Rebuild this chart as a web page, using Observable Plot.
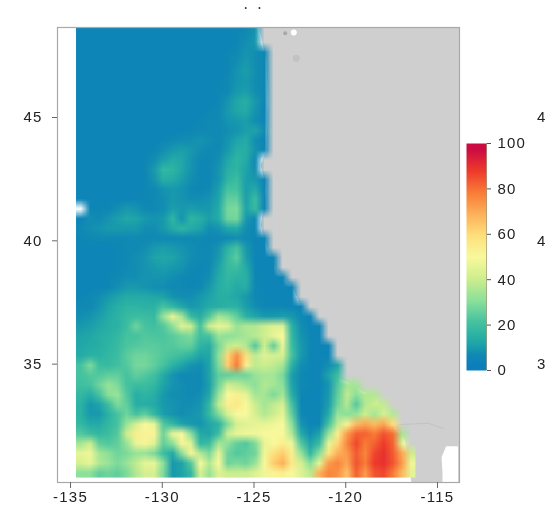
<!DOCTYPE html>
<html>
<head>
<meta charset="utf-8">
<script src="https://cdn.jsdelivr.net/npm/d3@7"></script>
<script src="https://cdn.jsdelivr.net/npm/@observablehq/plot@0.6"></script>
<style>
html,body{margin:0;padding:0;background:#fff;}
#wrap{position:relative;width:552px;height:512px;filter:blur(0.65px);overflow:hidden;}
#wrap svg{position:absolute;left:0;top:0;background:transparent;}
#wrap svg g[aria-label$="tick label"] text{letter-spacing:1.2px;}
</style>
</head>
<body>
<div id="wrap"></div>
<script>
// Percent values, north to south; each row stops at the coast.
const gridRows = [
[3,3,3,3,3,3,3,3,3,3,3,3,3,3,3,3,3,4,5,7],
[3,3,3,3,3,3,3,3,3,3,3,3,3,3,3,3,3,4,6,8],
[3,3,3,3,3,3,3,3,3,3,3,3,3,3,3,3,4,5,7,6,4],
[3,3,3,3,3,3,3,3,3,3,3,3,3,3,3,3,4,6,8,6,4],
[3,3,3,3,3,3,3,3,3,3,3,3,3,3,3,3,4,7,9,6,4],
[3,3,3,3,3,3,3,3,3,3,3,3,3,3,3,4,5,7,8,6,4],
[3,3,3,3,3,3,3,3,3,3,3,3,3,3,3,4,5,8,9,6,4],
[3,3,3,3,3,3,3,3,3,3,3,3,3,3,3,4,7,11,13,8,4],
[3,3,3,3,3,3,3,3,3,3,3,3,3,3,4,5,8,11,12,7,3],
[3,3,3,3,3,3,3,3,3,3,3,3,3,4,5,5,7,8,9,6,3],
[3,3,3,3,3,3,3,3,3,3,3,3,4,5,5,5,6,7,9,10,6],
[3,3,3,3,3,3,3,3,3,4,5,6,6,7,6,5,7,10,12,6,3],
[3,3,3,3,3,3,3,3,4,6,8,9,8,6,5,5,8,13,13,7,3],
[3,3,3,3,3,3,3,4,6,9,12,11,7,5,4,6,11,15,12,5],
[3,3,3,3,3,3,3,4,8,16,15,11,7,4,4,7,13,15,10,6],
[3,3,3,3,3,3,3,4,7,13,12,9,6,4,4,7,15,18,9,8,3],
[3,3,3,3,3,3,3,4,5,7,8,7,5,4,5,9,20,20,9,12,3],
[3,3,3,3,3,3,4,4,5,6,8,7,6,6,7,10,24,24,9,18,3],
[null,4,4,4,6,8,7,5,5,6,9,8,9,8,8,12,27,28,10,17,3],
[3,6,5,7,9,11,10,8,7,8,15,7,15,13,9,12,26,27,8,5],
[5,6,7,8,8,8,8,6,6,8,12,15,12,10,6,7,11,12,6,4],
[4,5,5,5,5,5,5,5,5,5,5,5,5,5,4,4,5,6,5,4,3],
[3,3,3,3,4,5,5,6,8,9,8,7,6,5,5,7,14,20,8,3,3],
[3,3,3,3,4,5,6,7,10,11,10,8,6,5,5,8,17,23,9,3,3,3],
[3,3,3,3,4,5,6,7,8,9,8,7,5,4,5,10,17,18,12,4,3,3],
[3,3,3,4,5,6,6,7,7,7,6,5,4,4,6,12,16,14,14,4,3,3,3],
[3,3,3,4,6,8,8,7,6,6,5,5,4,5,8,13,15,12,13,5,3,3,3,3],
[4,5,6,8,10,12,12,12,11,10,7,6,6,8,10,13,13,11,8,5,4,3,3,3],
[5,5,7,10,13,15,15,14,14,20,16,11,8,9,12,13,14,14,9,6,4,4,4,3,3],
[6,7,9,12,14,17,18,18,17,32,46,34,17,13,22,34,30,24,14,11,8,8,9,8,5,3],
[8,9,11,13,14,18,26,20,19,22,30,44,40,20,40,46,44,32,36,36,40,44,44,14,6,3,3],
[10,11,13,14,16,20,20,22,21,21,23,26,28,19,20,32,30,32,34,37,40,46,50,16,7,4,3],
[11,12,13,15,17,21,22,23,23,22,22,24,24,15,13,27,38,40,36,22,40,24,46,18,8,4,3,3],
[12,14,14,16,18,23,26,26,24,22,20,18,15,10,11,30,62,76,60,38,44,42,42,20,8,4,3,3],
[20,28,18,17,19,22,27,27,24,20,14,10,7,6,10,28,64,80,54,38,40,38,34,14,6,4,3,6,10],
[20,22,22,24,24,20,24,22,19,12,7,5,5,5,10,24,24,26,26,32,34,34,28,9,5,3,3,10,18],
[19,20,26,32,28,20,18,18,16,10,7,6,5,5,9,26,40,38,34,30,36,34,30,10,5,4,3,7,22,34,34],
[16,13,20,30,32,22,13,15,13,8,6,6,5,6,11,32,50,54,46,34,34,28,34,13,4,3,3,8,24,38,30,36,36],
[14,8,10,18,28,24,13,13,12,8,7,6,6,7,16,38,54,57,50,40,34,38,42,20,4,3,3,9,26,36,22,36,40,38],
[14,8,8,14,20,26,20,24,16,9,7,6,7,8,16,28,42,50,50,42,36,40,46,24,5,3,4,12,32,30,32,40,34,42,36],
[16,12,12,16,20,32,42,50,46,22,16,10,8,7,11,14,28,42,44,46,46,48,50,30,7,3,4,20,38,52,68,72,68,72,60],
[22,18,16,18,22,40,54,52,52,26,46,50,30,12,10,18,40,46,48,48,50,50,50,36,12,6,10,32,54,74,84,84,80,86,82,34],
[34,40,24,22,24,32,46,52,44,24,30,52,44,16,18,34,30,24,22,28,46,50,54,48,22,10,18,46,62,78,88,80,84,90,84,44],
[46,48,34,30,26,28,32,32,28,18,12,30,52,36,28,46,26,22,24,26,48,60,64,54,32,16,30,58,70,74,85,78,88,92,85,72,40],
[42,46,36,32,28,32,38,46,46,30,8,10,22,50,36,50,26,28,26,32,50,64,70,56,42,30,46,74,78,72,86,80,90,92,86,74,48],
[30,30,24,26,24,28,36,42,42,28,8,10,16,42,32,44,40,40,40,44,48,52,54,50,44,38,70,78,76,66,84,74,86,88,80,68,45]
];
const gridCols = 37;
const gridWest = -134.7, gridEast = -116.2, gridNorth = 48.65, gridSouth = 30.4;

// Coast (land lies east of it)
const coastLat = [48.65,47.3,45.7,43.66,43.05,42.05,40.6,40,38.8,38,36.8,35.6,34.5,34.15,33.55,32.7,31.9,30.2];
const coastLon = [-124.7,-124.3,-124.2,-124.3,-124.6,-124.3,-124.6,-124.4,-123.75,-122.8,-122.1,-121.0,-120.6,-119.65,-118.3,-117.5,-116.75,-116.4];
// Gulf of California
const gulfLat = [31.65,31.2,30.6,30.2];
const gulfLon = [-114.5,-114.75,-114.7,-114.7];
// US-Mexico border
const borderLat = [32.55,32.6,32.4];
const borderLon = [-117.1,-115.5,-114.7];

const xTicks = [-135,-130,-125,-120,-115];
const yTicks = [35,40,45];
const barTicks = [0,20,40,60,80,100];
const barStops = [100,95,90,85,80,75,70,65,60,55,50,45,40,35,30,25,20,15,10,5,0];
const colorDomain = [0,5,10,15,20,30,40,50,60,70,80,90,100];
const colorRange = ["#0c7fbb","#1089b4","#1fa4a9","#2fb5a3","#45c29f","#8be09a","#cdee8e","#f8f99c","#fee07c","#fdb05a","#f87c36","#ee3a2b","#cb0b42"];
const clippedLat = [45,40,35];
const clippedText = ["4","4","3"];
const titleLon = [-125.45,-124.7];

const xMin = -135.71, xMax = -113.8, yMin = 30.2, yMax = 48.65;
const color = {type:"linear", domain:colorDomain, range:colorRange, interpolate:"rgb"};
const font = "Liberation Sans, Arial, sans-serif";

const gridValues = gridRows.flatMap(r => Array.from({length:gridCols}, (_, i) => i < r.length && r[i] != null ? r[i] : NaN));
const coast = coastLat.map((lat,i) => ({lat, lon:coastLon[i]}));
const gulf = gulfLat.map((lat,i) => ({lat, lon:gulfLon[i]}));
const border = borderLat.map((lat,i) => ({lat, lon:borderLon[i]}));

const map = Plot.plot({
  width:552, height:512,
  marginLeft:57, marginRight:93, marginTop:27, marginBottom:30,
  style:{background:"transparent", fontFamily:font},
  x:{domain:[xMin,xMax]},
  y:{domain:[yMin,yMax]},
  color,
  marks:[
    Plot.areaX(coast,{x1:"lon", x2:xMax, y:"lat", fill:"#cfcfcf"}),
    Plot.areaX(gulf,{x1:"lon", x2:xMax-0.05, y:"lat", fill:"#ffffff"}),
    Plot.line(border,{x:"lon", y:"lat", stroke:"#c2c2c2", strokeWidth:1}),
    Plot.dot([{lon:-122.83,lat:48.45}],{x:"lon", y:"lat", r:3, fill:"#ffffff"}),
    Plot.dot([{lon:-123.3,lat:48.42}],{x:"lon", y:"lat", r:2, fill:"#a8a8a8"}),
    Plot.dot([{lon:-122.7,lat:47.4}],{x:"lon", y:"lat", r:3.5, fill:"#c2c2c2"}),
    Plot.raster(gridValues,{width:gridCols, height:gridRows.length, x1:gridWest, x2:gridEast, y1:gridNorth, y2:gridSouth}),
    Plot.frame({stroke:"#a8a8a8", strokeWidth:1.2}),
    Plot.axisX({ticks:xTicks, tickFormat:d=>String(d), tickSize:6, tickPadding:3, fontSize:15, stroke:"#666", fill:"#222", label:null}),
    Plot.axisY({ticks:yTicks, tickFormat:d=>String(d), tickSize:5, tickPadding:10, fontSize:15, stroke:"#666", fill:"#222", label:null}),
    Plot.text(clippedLat,{x:-109.35, y:d=>d, text:(d,i)=>clippedText[i], fontSize:15, fill:"#222"}),
    Plot.text(titleLon,{x:d=>d, y:49.47, text:()=>"•", fontSize:7, fill:"#333"})
  ]
});

const bar = Plot.plot({
  width:552, height:512,
  marginLeft:466, marginRight:66, marginTop:143, marginBottom:142,
  style:{background:"transparent", fontFamily:font},
  x:{domain:[0,1], axis:null},
  y:{domain:[0,100]},
  color,
  marks:[
    Plot.raster(barStops,{width:1, height:barStops.length, x1:0, x2:1, y1:100, y2:0}),
    Plot.ruleX([1],{stroke:"#6a5a30", strokeOpacity:0.45}),
    Plot.axisY({anchor:"right", ticks:barTicks, tickSize:4, tickPadding:7, fontSize:15, stroke:"#555", fill:"#222", label:null})
  ]
});

const wrap = document.getElementById("wrap");
wrap.append(map, bar);
</script>
</body>
</html>
